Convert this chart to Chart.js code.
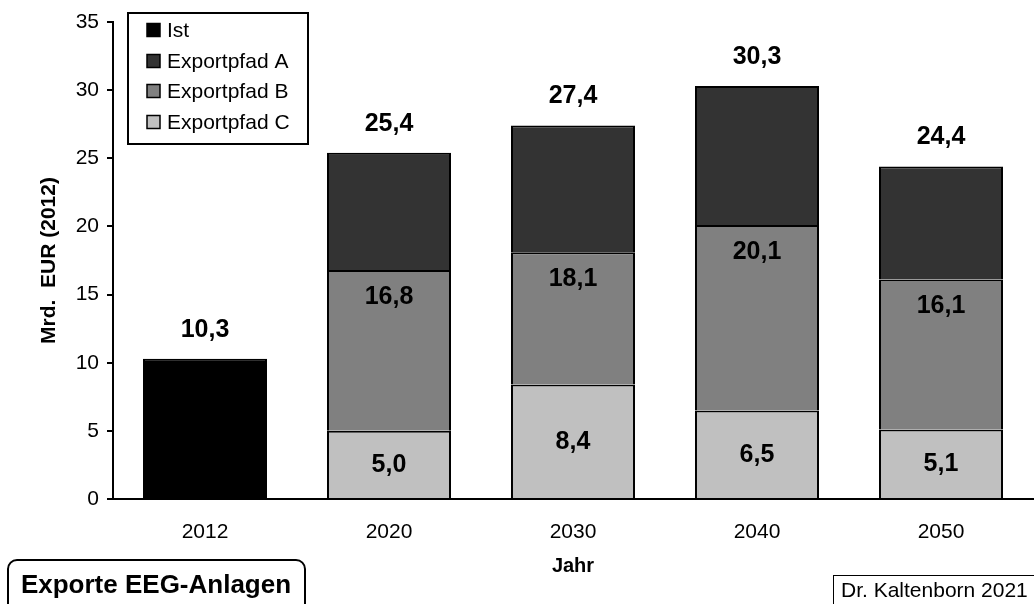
<!DOCTYPE html>
<html>
<head>
<meta charset="utf-8">
<script src="https://cdn.jsdelivr.net/npm/chart.js@4/dist/chart.umd.min.js"></script>
<style>
  body { margin: 0; background: #fff; }
</style>
</head>
<body>
<canvas id="exporte-chart" width="1034" height="604"></canvas>
<script>
// Daten (Mrd. EUR, Preise 2012)
var jahre = ['2012', '2020', '2030', '2040', '2050'];
var ist = [10.3, null, null, null, null];
var pfadA = [null, 25.4, 27.4, 30.3, 24.4];
var pfadB = [null, 16.8, 18.1, 20.1, 16.1];
var pfadC = [null, 5.0, 8.4, 6.5, 5.1];
var yTicks = [0, 5, 10, 15, 20, 25, 30, 35];

var FONT = '"Liberation Sans", Arial, sans-serif';

function fmt(v) { return v.toFixed(1).replace('.', ','); }

// Bereiche fuer die uebereinanderliegenden Balken
var istData = ist.map(function (v) { return v == null ? null : [0, v]; });
var cData = pfadC.map(function (v) { return v == null ? null : [0, v]; });
var bData = pfadB.map(function (v, i) { return v == null ? null : [pfadC[i], v]; });
var aData = pfadA.map(function (v, i) { return v == null ? null : [pfadB[i], v]; });

// Werte-Beschriftungen
var labelPlugin = {
    id: 'wertLabels',
    afterDatasetsDraw: function (chart) {
        var ctx = chart.ctx;
        var y = chart.scales.y;
        ctx.save();
        ctx.font = 'bold 25px ' + FONT;
        ctx.fillStyle = '#000';
        ctx.textAlign = 'center';
        ctx.textBaseline = 'middle';
        chart.data.datasets.forEach(function (ds, di) {
            var meta = chart.getDatasetMeta(di);
            meta.data.forEach(function (bar, i) {
                var src = ds.werte[i];
                if (src == null) return;
                var x = bar.x;
                var top = y.getPixelForValue(src);
                if (ds.labelPos === 'above') {
                    ctx.fillText(fmt(src), x, top - 29);
                } else if (ds.labelPos === 'insideTop') {
                    ctx.fillText(fmt(src), x, top + 27);
                } else {
                    var base = y.getPixelForValue(0);
                    ctx.fillText(fmt(src), x, (top + base) / 2);
                }
            });
        });
        ctx.restore();
    }
};

// Legende im Kasten, Titel-Kasten und Quelle
var boxPlugin = {
    id: 'kaesten',
    afterDraw: function (chart) {
        var ctx = chart.ctx;
        ctx.save();
        // Legende
        ctx.lineWidth = 2;
        ctx.strokeStyle = '#000';
        ctx.fillStyle = '#fff';
        ctx.fillRect(128, 13, 180, 131);
        ctx.strokeRect(128, 13, 180, 131);
        var rows = [30, 61, 91, 122];
        ctx.font = '21px ' + FONT;
        ctx.textBaseline = 'middle';
        ctx.textAlign = 'left';
        chart.data.datasets.forEach(function (ds, k) {
            ctx.fillStyle = ds.backgroundColor;
            ctx.fillRect(147, rows[k] - 6.5, 13, 13);
            ctx.lineWidth = 1.5;
            ctx.strokeRect(147, rows[k] - 6.5, 13, 13);
            ctx.fillStyle = '#000';
            ctx.fillText(ds.label, 167, rows[k] + 1);
        });

        // Titel-Kasten unten links
        ctx.lineWidth = 2;
        ctx.beginPath();
        ctx.roundRect(8, 560, 297, 60, 9);
        ctx.stroke();
        ctx.font = 'bold 26px ' + FONT;
        ctx.textAlign = 'center';
        ctx.fillText('Exporte EEG-Anlagen', 156, 586);

        // Quelle unten rechts
        ctx.lineWidth = 1;
        ctx.strokeRect(833.5, 575.5, 210, 40);
        ctx.font = '21px ' + FONT;
        ctx.textAlign = 'left';
        ctx.fillText('Dr. Kaltenborn 2021', 841, 591);
        ctx.restore();
    }
};

var ctx = document.getElementById('exporte-chart').getContext('2d');
var chart = new Chart(ctx, {
    type: 'bar',
    data: {
        labels: jahre,
        datasets: [
            { label: 'Ist', data: istData, werte: ist, labelPos: 'above', backgroundColor: '#000000' },
            { label: 'Exportpfad A', data: aData, werte: pfadA, labelPos: 'above', backgroundColor: '#333333' },
            { label: 'Exportpfad B', data: bData, werte: pfadB, labelPos: 'insideTop', backgroundColor: '#808080' },
            { label: 'Exportpfad C', data: cData, werte: pfadC, labelPos: 'center', backgroundColor: '#c0c0c0' }
        ]
    },
    options: {
        responsive: false,
        animation: false,
        devicePixelRatio: 1,
        layout: { padding: { left: 0, right: 1, top: 22, bottom: 0 } },
        datasets: {
            bar: {
                grouped: false,
                categoryPercentage: 1,
                barPercentage: 0.674,
                borderColor: '#000',
                borderWidth: 2,
                borderSkipped: 'bottom'
            }
        },
        plugins: {
            legend: { display: false },
            tooltip: { enabled: false }
        },
        scales: {
            x: {
                grid: { display: false },
                border: { display: true, color: '#000', width: 2 },
                ticks: { color: '#000', padding: 13, font: { family: FONT, size: 21 } },
                title: {
                    display: true, text: 'Jahr', color: '#000',
                    font: { family: FONT, size: 20, weight: 'bold' },
                    padding: { top: 0, bottom: 26 }
                },
                afterFit: function (s) { s.height = 105; }
            },
            y: {
                min: 0,
                max: 35,
                afterBuildTicks: function (s) {
                    s.ticks = yTicks.map(function (v) { return { value: v }; });
                },
                grid: { drawOnChartArea: false, drawTicks: true, tickLength: 6, color: '#000', lineWidth: 2 },
                border: { display: true, color: '#000', width: 2 },
                ticks: { color: '#000', padding: 8, font: { family: FONT, size: 21 } },
                title: {
                    display: true, text: 'Mrd.  EUR (2012)', color: '#000',
                    font: { family: FONT, size: 21, weight: 'bold' },
                    padding: { top: 37, bottom: 0 }
                },
                afterFit: function (s) { s.width = 113; }
            }
        }
    },
    plugins: [labelPlugin, boxPlugin]
});
</script>
</body>
</html>
